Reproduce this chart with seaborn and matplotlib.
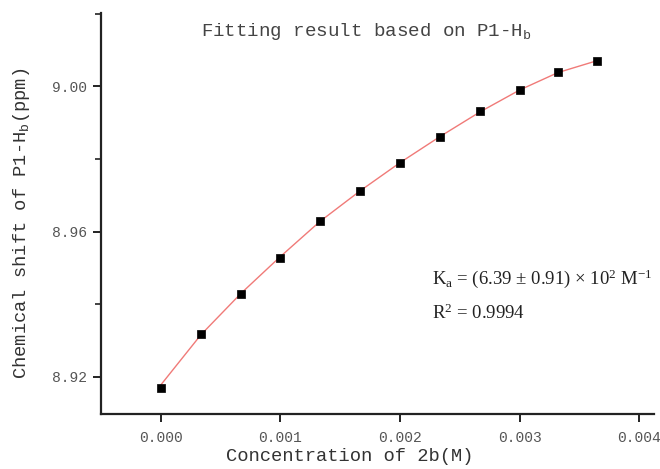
import matplotlib
matplotlib.use("Agg")
import matplotlib.pyplot as plt
import seaborn as sns
import pandas as pd
from matplotlib.ticker import FixedLocator

# ---- data ----
conc = [0.0, 0.000335, 0.000670, 0.000995, 0.001330, 0.001665,
        0.002000, 0.002335, 0.002670, 0.003000, 0.003320, 0.003650]
shift = [8.9169, 8.9319, 8.9429, 8.9528, 8.9629, 8.9711,
         8.9790, 8.9861, 8.9931, 8.9990, 9.0039, 9.0070]
fit_shift = [8.9178, 8.9316, 8.9430, 8.9530, 8.9628, 8.9712,
             8.9790, 8.9862, 8.9930, 8.9990, 9.0038, 9.0071]
x_ticks = [0.000, 0.001, 0.002, 0.003, 0.004]
x_ticklabels = ["0.000", "0.001", "0.002", "0.003", "0.004"]
y_ticks = [8.92, 8.96, 9.00]
y_ticklabels = ["8.92", "8.96", "9.00"]
title = "Fitting result based on P1-H$\\mathregular{_b}$"
xlabel = "Concentration of 2b(M)"
ylabel = "Chemical shift of P1-H$\\mathregular{_b}$(ppm)"
ann1 = "K$\\mathregular{_a}$ = (6.39 ± 0.91) × 10$\\mathregular{^2}$ M$\\mathregular{^{-1}}$"
ann2 = "R$\\mathregular{^2}$ = 0.9994"

df = pd.DataFrame({"conc": conc, "shift": shift, "fit": fit_shift})

sns.set_theme(style="white")
plt.rcParams["font.family"] = ["Liberation Mono", "DejaVu Sans"]
plt.rcParams["mathtext.default"] = "regular"

fig = plt.figure(figsize=(6.6, 4.69), dpi=100)
ax = fig.add_axes([101/660, 1 - 414/469, (654-101)/660, (414-13)/469])

sns.lineplot(data=df, x="conc", y="fit", ax=ax, color="#f07a78", linewidth=1.0)
sns.scatterplot(data=df, x="conc", y="shift", ax=ax, marker="s", s=36,
                color="black", edgecolor="black", linewidth=0.5, zorder=3)

ax.set_xlim(-0.0005, 0.004123)
ax.set_ylim(8.9098, 9.0202)

ax.xaxis.set_major_locator(FixedLocator(x_ticks))
ax.set_xticklabels(x_ticklabels)
ax.yaxis.set_major_locator(FixedLocator(y_ticks))
ax.set_yticklabels(y_ticklabels)
ax.yaxis.set_minor_locator(FixedLocator([8.94, 8.98, 9.02]))

for s in ["top", "right"]:
    ax.spines[s].set_visible(False)
for s in ["left", "bottom"]:
    ax.spines[s].set_linewidth(1.6)
    ax.spines[s].set_color("#222222")

ax.tick_params(axis="both", which="major", direction="out", length=6, width=1.4,
               color="#222222", labelsize=10.5, labelcolor="#555555", pad=4,
               left=True, bottom=True)
ax.tick_params(axis="x", which="major", pad=6)
ax.tick_params(axis="y", which="minor", direction="out", length=4, width=1.2,
               color="#222222", left=True)

ax.set_xlabel(xlabel, fontsize=13.5, color="#333333")
ax.set_ylabel(ylabel, fontsize=13.5, color="#333333")
ax.xaxis.set_label_coords((350-101)/553, -0.085)
ax.yaxis.set_label_coords(-0.125, (414-223)/401)

fig.text(366/660, 1 - 31/469, title, ha="center", va="center",
         fontsize=13.8, color="#444444")

fig.text(432/660, 1 - 279/469, ann1, ha="left", va="center",
         fontsize=13.5, family="Liberation Serif", color="#222222")
fig.text(432/660, 1 - 313/469, ann2, ha="left", va="center",
         fontsize=13.5, family="Liberation Serif", color="#222222")

fig.savefig("out.png", dpi=100)
